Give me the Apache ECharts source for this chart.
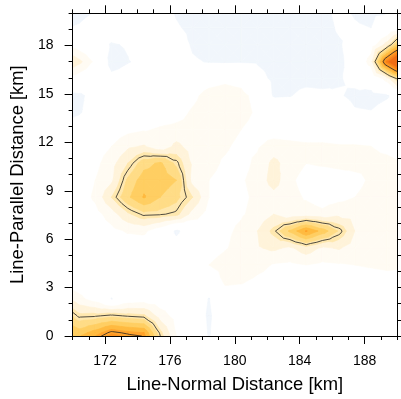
<!DOCTYPE html>
<html>
<head>
<meta charset="utf-8">
<script src="https://cdn.jsdelivr.net/npm/echarts@6/dist/echarts.min.js"></script>
<style>
  html, body { margin: 0; padding: 0; background: #ffffff; }
  #chart { width: 401px; height: 399px; }
</style>
</head>
<body>
<div id="chart"></div>
<script>
// Grid node positions (km)
const xs = [169.4, 170.4, 171.4, 172.4, 173.4, 174.4, 175.4, 176.4, 177.4, 178.4, 179.4,
            180.4, 181.4, 182.4, 183.4, 184.4, 185.4, 186.4, 187.4, 188.4, 189.4, 190.4];
const ys = [20.15, 19.1, 18.05, 17.0, 15.95, 14.9, 13.85, 12.8, 11.75, 10.7, 9.65,
            8.6, 7.55, 6.5, 5.45, 4.4, 3.35, 2.3, 1.25, 0.2, -0.85];

// Field values, one row per entry of ys (top to bottom), one column per entry of xs
const row2015 = [-1.3, -1.3, -1.0, -0.5, -0.2, -0.3, -0.6, -1.1, -1.4, -1.4, -1.4, -1.4, -1.4, -1.4, -1.4, -1.3, -1.2, -0.8, -1.05, -1.15, -1.1, -0.9];
const row1910 = [-1.1, -0.9, -0.5, -0.3, 0.0, -0.1, -0.4, -0.9, -1.2, -1.4, -1.5, -1.5, -1.5, -1.5, -1.5, -1.4, -1.3, -0.9, -0.95, -1.0, -0.3, 0.6];
const row1805 = [0.8, 0.3, -0.3, -1.1, -0.9, -0.2, -0.3, -0.5, -1.1, -1.3, -1.4, -1.4, -1.4, -1.4, -1.5, -1.5, -1.3, -1.1, -0.6, 0.3, 2.5, 6.7];
const row1700 = [4.0, 2.3, 0.7, -1.4, -1.05, -0.8, -0.4, -0.4, -0.9, -1.05, -1.1, -1.05, -1.1, -1.3, -1.4, -1.5, -1.4, -1.2, -0.6, 1.6, 9.5, 15.0];
const row1595 = [0.7, 0.3, -0.2, -0.7, -0.6, -0.3, 0.0, 0.2, 0.4, 0.6, 0.8, 0.6, -0.6, -1.2, -1.3, -1.3, -1.3, -1.1, -0.7, -0.3, 1.5, 5.0];
const row1490 = [-1.5, -1.2, -0.6, -0.3, -0.1, 0.1, 0.3, 0.5, 0.8, 1.3, 1.4, 1.3, 0.6, -1.1, -1.05, -0.7, -0.8, -0.9, -1.2, -1.3, -1.1, -0.2];
const row1385 = [-1.4, -1.1, -0.5, -0.2, 0.1, 0.3, 0.5, 0.7, 1.1, 1.4, 1.5, 1.4, 0.8, 0.1, -0.2, -0.1, -0.2, -0.4, -0.9, -0.95, -0.6, -0.3];
const row1280 = [-0.6, -0.4, 0.2, 0.4, 0.7, 0.9, 1.1, 1.2, 1.2, 1.3, 1.3, 1.0, 0.6, 0.5, 0.4, 0.3, 0.3, 0.2, 0.1, 0.1, 0.1, 0.0];
const row1175 = [0.0, 0.2, 0.5, 1.0, 1.8, 2.1, 1.2, 2.3, 1.5, 1.2, 1.1, 0.8, 0.9, 1.4, 1.3, 1.2, 1.2, 1.1, 1.1, 1.0, 0.9, 0.8];
const row1070 = [0.2, 0.4, 0.7, 1.6, 3.0, 4.6, 5.2, 3.75, 1.8, 1.2, 0.9, 0.7, 1.2, 2.3, 1.5, 1.0, 1.1, 1.2, 1.2, 1.1, 1.1, 1.0];
const row0965 = [0.2, 0.3, 1.0, 1.8, 4.2, 5.6, 5.6, 5.0, 1.6, 1.0, 0.8, 0.9, 1.3, 2.5, 1.2, 0.6, 0.5, 0.6, 0.8, 1.1, 1.2, 1.2];
const row0860 = [0.2, 0.4, 1.2, 3.0, 4.8, 6.1, 5.0, 4.3, 3.0, 1.0, 0.5, 0.8, 1.2, 1.6, 1.3, 0.9, 0.6, 0.7, 1.0, 1.2, 1.3, 1.2];
const row0755 = [0.2, 0.3, 0.6, 1.5, 2.8, 3.7, 3.6, 3.3, 1.6, 0.6, 0.7, 0.9, 1.3, 2.0, 1.2, 1.4, 1.2, 1.7, 1.6, 1.3, 1.2, 1.1];
const row0650 = [0.1, 0.2, 0.3, 0.7, 1.1, 1.2, 0.2, -1.2, -0.3, 0.4, 0.8, 1.2, 2.0, 3.3, 5.2, 7.1, 5.6, 3.9, 2.0, 1.3, 1.2, 1.1];
const row0545 = [0.1, 0.1, 0.2, 0.3, 0.4, 0.3, 0.0, -0.5, 0.1, 0.5, 0.9, 1.4, 1.9, 2.2, 1.8, 2.6, 1.8, 2.1, 1.5, 1.2, 1.3, 1.2];
const row0440 = [0.1, 0.1, 0.1, 0.2, 0.2, 0.2, 0.2, 0.3, 0.6, 1.0, 1.5, 2.0, 1.4, 0.9, 0.8, 1.0, 0.8, 0.9, 1.0, 1.1, 1.2, 1.1];
const row0335 = [0.3, 0.3, 0.0, -0.3, 0.0, 0.1, 0.2, 0.3, 0.5, -0.3, 1.2, 1.1, 0.7, 0.5, 0.6, 0.7, 0.8, 0.6, 0.5, 0.5, 0.6, 0.6];
const row0230 = [2.5, 1.3, 0.5, -1.05, 0.2, 0.4, 0.3, 0.2, 0.0, -1.05, 0.2, 0.3, 0.3, 0.3, 0.3, 0.3, 0.3, 0.3, 0.3, 0.3, 0.3, 0.3];
const row0125 = [5.0, 3.3, 3.4, 3.7, 3.4, 3.2, 1.5, 0.6, 0.0, -1.2, 0.0, 0.2, 0.2, 0.2, 0.2, 0.2, 0.2, 0.2, 0.2, 0.2, 0.2, 0.2];
const row0020 = [6.0, 5.5, 6.5, 7.8, 7.3, 7.0, 3.3, 0.9, 0.3, -1.1, 0.0, 0.1, 0.1, 0.1, 0.1, 0.1, 0.1, 0.1, 0.1, 0.1, 0.1, 0.1];
const rowM085 = [7.0, 7.5, 9.0, 10.5, 10.0, 9.0, 4.5, 1.2, 0.4, -0.9, 0.0, 0.1, 0.1, 0.1, 0.1, 0.1, 0.1, 0.1, 0.1, 0.1, 0.1, 0.1];

const field = [row2015, row1910, row1805, row1700, row1595, row1490, row1385, row1280, row1175,
               row1070, row0965, row0860, row0755, row0650, row0545, row0440, row0335, row0230,
               row0125, row0020, rowM085];

// Shading levels and colours
const negLevel = -1;
const negColor = '#f1f6fc';
const fillLevels = [1, 2, 3, 4, 5, 6, 7, 8, 9, 10];
const fillColors = ['#fffbf3', '#fff3da', '#ffe8ae', '#ffdc86', '#ffce62',
                    '#ffba40', '#ffa22c', '#fd9421', '#f8801a', '#f06d14'];
// Line contours
const lineLevels = [3.5, 7.5];

// Axis ticks and titles
const xMajorTicks = [172, 176, 180, 184, 188];
const yMajorTicks = [0, 3, 6, 9, 12, 15, 18];
const xTitle = 'Line-Normal Distance [km]';
const yTitle = 'Line-Parallel Distance [km]';

// one item per grid cell
const cells = [];
for (let j = 0; j < ys.length - 1; j++) {
  for (let i = 0; i < xs.length - 1; i++) cells.push([i, j]);
}

function cellTriangles(i, j, api) {
  const c = [[i, j], [i + 1, j], [i + 1, j + 1], [i, j + 1]].map(function (p) {
    const pt = api.coord([xs[p[0]], ys[p[1]]]);
    return [pt[0], pt[1], field[p[1]][p[0]]];
  });
  const ctr = [
    (c[0][0] + c[1][0] + c[2][0] + c[3][0]) / 4,
    (c[0][1] + c[1][1] + c[2][1] + c[3][1]) / 4,
    (c[0][2] + c[1][2] + c[2][2] + c[3][2]) / 4
  ];
  return [[c[0], c[1], ctr], [c[1], c[2], ctr], [c[2], c[3], ctr], [c[3], c[0], ctr]];
}

function clipTri(pts, lo, above) {
  const out = [];
  for (let k = 0; k < pts.length; k++) {
    const a = pts[k], b = pts[(k + 1) % pts.length];
    const ina = above ? a[2] >= lo : a[2] < lo;
    const inb = above ? b[2] >= lo : b[2] < lo;
    if (ina) out.push([a[0], a[1]]);
    if (ina !== inb) {
      const t = (lo - a[2]) / (b[2] - a[2]);
      out.push([a[0] + t * (b[0] - a[0]), a[1] + t * (b[1] - a[1])]);
    }
  }
  return out;
}

function fillSeries(level, color, above) {
  return {
    type: 'custom',
    coordinateSystem: 'cartesian2d',
    xAxisIndex: 0, yAxisIndex: 0,
    clip: true,
    silent: true,
    animation: false,
    progressive: 0,
    z: 1,
    data: cells,
    renderItem: function (params, api) {
      const i = api.value(0), j = api.value(1);
      const children = [];
      cellTriangles(i, j, api).forEach(function (tri) {
        const poly = clipTri(tri, level, above);
        if (poly.length >= 3) {
          children.push({
            type: 'polygon',
            shape: { points: poly },
            style: { fill: color, stroke: color, lineWidth: 0.6 }
          });
        }
      });
      return { type: 'group', children: children };
    }
  };
}

function lineSeries() {
  return {
    type: 'custom',
    coordinateSystem: 'cartesian2d',
    xAxisIndex: 0, yAxisIndex: 0,
    clip: true,
    silent: true,
    animation: false,
    progressive: 0,
    z: 2,
    data: cells,
    renderItem: function (params, api) {
      const i = api.value(0), j = api.value(1);
      const children = [];
      cellTriangles(i, j, api).forEach(function (tri) {
        lineLevels.forEach(function (L) {
          const pts = [];
          for (let k = 0; k < 3; k++) {
            const a = tri[k], b = tri[(k + 1) % 3];
            if ((a[2] >= L) !== (b[2] >= L)) {
              const t = (L - a[2]) / (b[2] - a[2]);
              pts.push([a[0] + t * (b[0] - a[0]), a[1] + t * (b[1] - a[1])]);
            }
          }
          if (pts.length === 2) {
            children.push({
              type: 'line',
              shape: { x1: pts[0][0], y1: pts[0][1], x2: pts[1][0], y2: pts[1][1] },
              style: { stroke: '#222222', lineWidth: 0.8 }
            });
          }
        });
      });
      return { type: 'group', children: children };
    }
  };
}

const series = [fillSeries(negLevel, negColor, false)];
fillLevels.forEach(function (lv, k) { series.push(fillSeries(lv, fillColors[k], true)); });
series.push(lineSeries());

const font = 'Liberation Sans';
const black = '#000000';

function minorAxis(pos, min, max) {
  return {
    type: 'value', position: pos, min: min, max: max, interval: 1, zlevel: 1, z: 10,
    axisLine: { show: true, onZero: false, lineStyle: { color: black, width: 1 } },
    axisTick: { show: true, length: 4, lineStyle: { color: black, width: 1 } },
    axisLabel: { show: false },
    splitLine: { show: false }
  };
}
function majorAxis(pos, min, max, ticks) {
  return {
    type: 'value', position: pos, min: min, max: max, zlevel: 1, z: 10,
    axisLine: { show: false, onZero: false },
    axisTick: { show: true, length: 8, customValues: ticks, lineStyle: { color: black, width: 1 } },
    axisLabel: { show: false },
    splitLine: { show: false }
  };
}

const xBottom = minorAxis('bottom', 170, 190);
xBottom.axisLabel = {
  show: true, customValues: xMajorTicks, margin: 18,
  color: black, fontSize: 14, fontFamily: font
};
xBottom.name = xTitle;
xBottom.nameLocation = 'middle';
xBottom.nameGap = 40;
xBottom.nameTextStyle = { color: black, fontSize: 18.4, fontFamily: font };

const yLeft = minorAxis('left', 0, 20);
yLeft.axisLabel = {
  show: true, customValues: yMajorTicks, margin: 19,
  color: black, fontSize: 14, fontFamily: font
};
yLeft.name = yTitle;
yLeft.nameLocation = 'middle';
yLeft.nameGap = 34;
yLeft.nameTextStyle = { color: black, fontSize: 18.4, fontFamily: font };

const option = {
  backgroundColor: '#ffffff',
  animation: false,
  grid: { left: 72.6, top: 13.3, width: 324.4, height: 323.4, show: false },
  xAxis: [
    xBottom,
    majorAxis('bottom', 170, 190, xMajorTicks),
    minorAxis('top', 170, 190),
    majorAxis('top', 170, 190, xMajorTicks)
  ],
  yAxis: [
    yLeft,
    majorAxis('left', 0, 20, yMajorTicks),
    minorAxis('right', 0, 20),
    majorAxis('right', 0, 20, yMajorTicks)
  ],
  series: series
};

const chart = echarts.init(document.getElementById('chart'), null, { renderer: 'canvas' });
chart.setOption(option);
</script>
</body>
</html>
